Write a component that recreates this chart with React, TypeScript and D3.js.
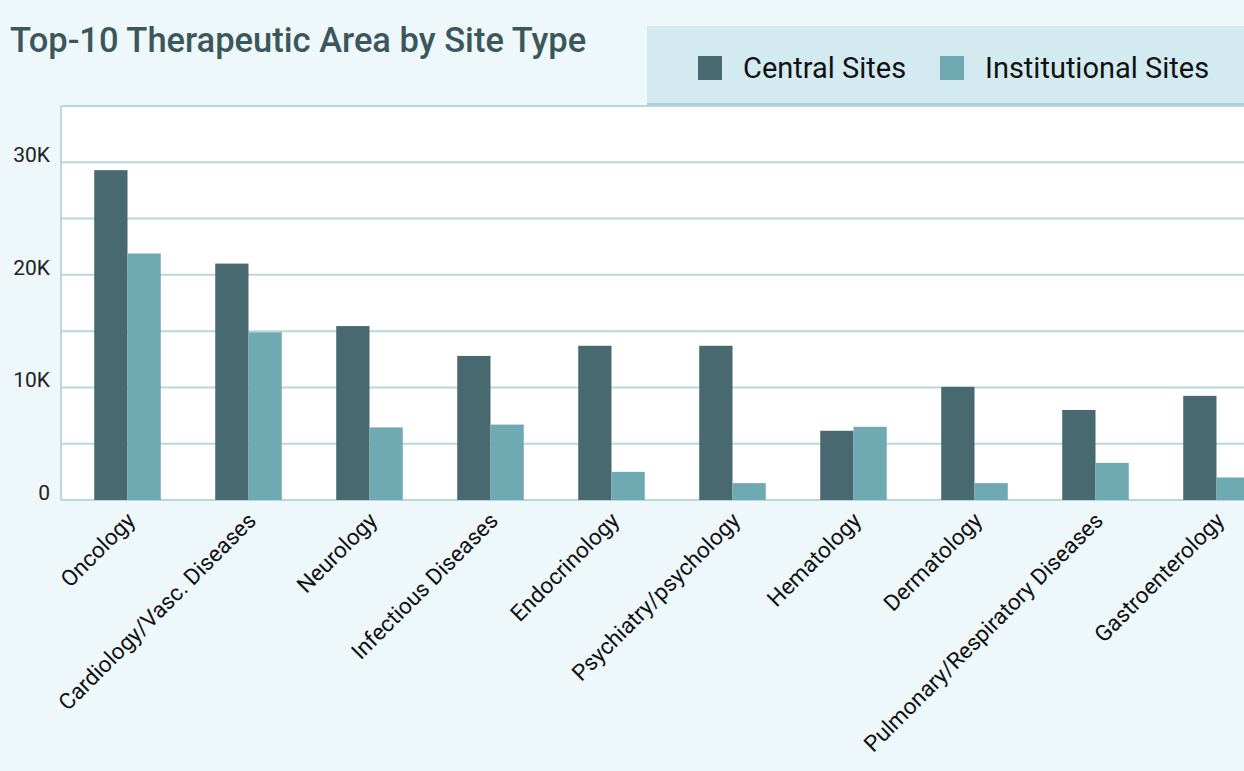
import React from "react";
import * as d3 from "d3";

const categories = [
  "Oncology",
  "Cardiology/Vasc. Diseases",
  "Neurology",
  "Infectious Diseases",
  "Endocrinology",
  "Psychiatry/psychology",
  "Hematology",
  "Dermatology",
  "Pulmonary/Respiratory Diseases",
  "Gastroenterology",
];
const centralSites = [29300, 21000, 15450, 12800, 13700, 13700, 6150, 10050, 8000, 9250];
const institutionalSites = [21900, 14900, 6450, 6700, 2500, 1500, 6500, 1500, 3300, 2000];
const seriesNames = ["Central Sites", "Institutional Sites"];
const yTickLabels = [0, 10000, 20000, 30000];

const W = 1244;
const H = 771;
const colors = ["#486970", "#6faab2"];
const gridColor = "#b8d8dd";
const font = "Roboto, 'Noto Sans', sans-serif";

export default function App() {
  const left = 61;
  const top = 106;
  const bottom = 500;
  const y = d3.scaleLinear().domain([0, 35000]).range([bottom, top]);
  const x = d3
    .scaleBand<string>()
    .domain(categories)
    .range([67, 1277])
    .paddingInner(0.45)
    .paddingOuter(0.225);
  const inner = d3.scaleBand<number>().domain([0, 1]).range([0, x.bandwidth()]);
  const gridVals = d3.range(0, 35001, 5000);
  const series = [centralSites, institutionalSites];

  return (
    <svg
      width={W}
      height={H}
      style={{ position: "absolute", left: 0, top: 0, display: "block" }}
    >
      <rect x={0} y={0} width={W} height={H} fill="#eef7f9" />
      <text
        x={10}
        y={52}
        fontFamily={font}
        fontWeight={500}
        fontSize={34.5}
        fill="#3b575c"
      >
        Top-10 Therapeutic Area by Site Type
      </text>
      {/* legend */}
      <rect x={647} y={26} width={W - 647} height={78} fill="#d3ebf0" />
      <rect x={647} y={103} width={W - 647} height={2} fill="#a9d0d6" />
      {seriesNames.map((s, i) => {
        const lx = [698, 940][i];
        return (
          <g key={s}>
            <rect x={lx} y={56} width={24} height={24} fill={colors[i]} />
            <text
              x={lx + 45}
              y={78}
              fontFamily={font}
              fontSize={29}
              fill="#111"
            >
              {s}
            </text>
          </g>
        );
      })}
      {/* plot area */}
      <rect x={left} y={top} width={W - left} height={bottom - top} fill="#ffffff" />
      {gridVals.map((v) => (
        <line
          key={v}
          x1={left}
          x2={W}
          y1={y(v)}
          y2={y(v)}
          stroke={gridColor}
          strokeWidth={2}
        />
      ))}
      <line x1={left} x2={left} y1={top} y2={bottom} stroke={gridColor} strokeWidth={2} />
      <line x1={left} x2={W} y1={top} y2={top} stroke={gridColor} strokeWidth={2} />
      {yTickLabels.map((v) => (
        <text
          key={v}
          x={50}
          y={y(v)}
          textAnchor="end"
          fontFamily={font}
          fontSize={21}
          fill="#222"
        >
          {v === 0 ? "0" : `${v / 1000}K`}
        </text>
      ))}
      {categories.map((c, ci) => (
        <g key={c} transform={`translate(${x(c)},0)`}>
          {series.map((s, si) => (
            <rect
              key={si}
              x={inner(si)}
              y={y(s[ci])}
              width={inner.bandwidth()}
              height={bottom - y(s[ci])}
              fill={colors[si]}
            />
          ))}
        </g>
      ))}
      {categories.map((c) => {
        const cx = (x(c) as number) + x.bandwidth() / 2;
        return (
          <text
            key={c}
            transform={`translate(${cx + 9},${522}) rotate(-45)`}
            textAnchor="end"
            fontFamily={font}
            fontSize={22.5}
            fill="#111"
          >
            {c}
          </text>
        );
      })}
    </svg>
  );
}
